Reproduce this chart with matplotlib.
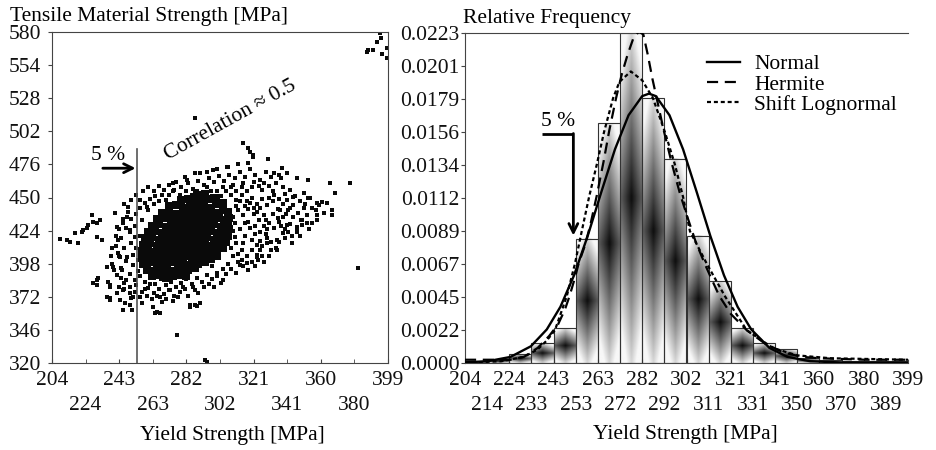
import numpy as np
import matplotlib
matplotlib.use('Agg')
import matplotlib.pyplot as plt
from matplotlib.patches import Rectangle
from matplotlib.lines import Line2D

plt.rcParams['font.family'] = ['Liberation Serif', 'DejaVu Serif']
plt.rcParams['font.size'] = 15.5

# ---------------- data ----------------
# left panel: scatter of yield strength vs tensile strength
# dense core of the cloud (drawn with bigger markers so it reads as solid black)
core_pts = [
    (262, 388), (266, 389), (270, 387), (274, 388), (278, 389), (282, 388),
    (259, 393), (263, 392), (267, 394), (271, 393), (275, 392), (279, 394), (283, 393), (287, 395),
    (257, 398), (261, 399), (265, 397), (269, 398), (273, 399), (277, 398), (281, 397), (285, 399), (289, 398), (293, 399),
    (256, 403), (260, 404), (264, 402), (268, 403), (272, 404), (276, 403), (280, 402), (284, 404), (288, 403), (292, 404), (296, 402), (300, 404),
    (256, 408), (260, 409), (264, 407), (268, 408), (272, 409), (276, 408), (280, 407), (284, 409), (288, 408), (292, 409), (296, 407), (300, 408), (303, 410),
    (257, 413), (261, 414), (265, 412), (269, 413), (273, 414), (277, 413), (281, 412), (285, 414), (289, 413), (293, 414), (297, 412), (301, 413), (305, 415),
    (258, 418), (262, 419), (266, 417), (270, 418), (274, 419), (278, 418), (282, 417), (286, 419), (290, 418), (294, 419), (298, 417), (302, 418), (306, 420),
    (260, 423), (264, 424), (268, 422), (272, 423), (276, 424), (280, 423), (284, 422), (288, 424), (292, 423), (296, 424), (300, 422), (304, 423), (307, 425),
    (262, 428), (266, 429), (270, 427), (274, 428), (278, 429), (282, 428), (286, 427), (290, 429), (294, 428), (298, 429), (302, 427), (306, 428),
    (265, 433), (269, 434), (273, 432), (277, 433), (281, 434), (285, 433), (289, 432), (293, 434), (297, 433), (301, 434), (304, 432), (307, 434),
    (268, 438), (272, 439), (276, 437), (280, 438), (284, 439), (288, 438), (292, 437), (296, 439), (300, 438), (303, 440), (306, 439),
    (272, 443), (276, 444), (280, 442), (284, 443), (288, 444), (292, 443), (296, 442), (299, 445), (303, 446),
    (279, 448), (283, 449), (287, 447), (291, 448), (295, 449), (299, 450), (288, 452), (293, 453),
]
# speckled halo around the core
halo_pts = [
    (272, 452), (275, 456), (279, 458), (283, 461), (286, 457), (289, 463), (292, 460), (295, 465), (298, 462), (301, 467),
    (304, 463), (307, 468), (310, 465), (313, 470), (316, 466), (319, 472), (322, 468), (325, 464), (328, 470), (331, 466),
    (334, 461), (337, 465), (281, 466), (287, 469), (294, 470), (300, 472), (306, 474), (312, 476), (318, 477), (276, 462),
    (270, 448), (268, 452), (296, 455), (303, 458), (309, 460), (315, 461), (320, 458), (326, 456), (332, 455), (338, 458),
    (308, 452), (311, 448), (314, 452), (317, 447), (320, 450), (323, 445), (326, 449), (329, 444), (332, 447), (335, 441),
    (338, 445), (341, 440), (344, 444), (312, 440), (315, 436), (318, 441), (321, 437), (324, 432), (327, 436), (330, 430),
    (333, 426), (336, 431), (339, 425), (342, 429), (310, 430), (313, 425), (316, 420), (319, 426), (322, 421), (325, 416),
    (328, 421), (331, 415), (334, 410), (311, 414), (314, 409), (317, 404), (320, 409), (323, 405), (309, 404), (312, 399),
    (315, 396), (306, 398), (303, 394), (300, 391), (297, 396), (320, 399), (326, 404), (344, 435), (347, 438), (349, 432),
    (346, 427), (352, 436), (350, 442),
    (255, 388), (258, 384), (261, 387), (264, 382), (267, 386), (270, 381), (273, 384), (276, 380), (279, 383), (282, 386),
    (285, 382), (288, 387), (291, 384), (294, 389), (297, 386), (260, 379), (263, 375), (266, 378), (269, 374), (272, 377),
    (275, 373), (278, 376), (252, 385), (249, 380), (252, 376), (255, 372), (258, 378), (246, 383), (249, 390), (281, 378),
    (287, 377), (292, 380), (300, 388), (303, 385), (262, 370), (268, 368), (256, 367), (250, 371),
    (254, 392), (251, 397), (254, 401), (251, 405), (253, 410), (250, 414), (252, 419), (249, 423), (252, 428), (250, 433),
    (253, 437), (255, 442), (258, 446), (261, 449), (264, 451), (247, 400), (246, 410), (244, 418), (247, 426), (245, 433),
    (248, 439), (243, 404), (241, 412), (244, 395), (242, 389), (239, 398), (256, 432), (255, 420), (255, 408), (260, 440),
    (263, 445), (266, 447),
    (246, 445), (250, 448), (253, 452), (257, 455), (260, 458), (263, 455), (266, 459), (269, 456), (272, 460), (274, 455),
    (278, 452), (282, 455), (285, 452), (288, 455), (291, 452), (294, 458), (297, 451), (300, 455), (302, 451), (305, 455),
    (308, 458), (311, 455), (314, 458), (317, 455), (321, 462), (324, 459), (327, 461), (330, 459), (333, 469), (336, 468),
    (243, 425), (245, 430), (241, 420), (239, 410), (238, 404), (240, 393), (244, 387), (247, 385), (246, 378), (243, 380),
    (249, 375), (253, 381), (256, 376), (259, 373), (261, 382), (265, 373), (270, 370), (274, 369), (277, 372), (283, 373),
    (286, 380), (289, 375), (295, 382), (298, 380), (302, 383), (305, 390), (308, 394), (311, 391), (314, 401), (318, 393),
    (322, 396), (327, 399), (330, 404), (331, 409), (336, 415), (339, 418), (341, 423), (343, 420), (348, 420), (353, 425),
    (355, 430), (357, 440), (359, 444), (362, 438), (309, 435), (311, 443), (313, 447), (316, 443), (319, 446), (321, 442),
    (323, 439), (325, 442), (327, 428), (329, 425), (332, 437), (335, 434), (337, 428), (340, 437), (318, 431), (320, 417),
    (323, 413), (326, 412), (329, 418), (315, 414), (312, 406), (308, 410), (310, 419), (309, 424), (316, 430), (322, 428),
    (325, 423), (328, 432), (330, 450), (333, 452), (336, 449), (339, 453), (342, 456), (345, 451), (348, 447), (351, 445),
    (354, 450),
]
# sparse tails and outliers
outlier_pts = [
    (208.6, 417.2), (212.5, 416.6), (214.4, 415.3), (217.3, 421.9), (219.3, 414.0), (221.2, 423.1), (222.2, 424.5),
    (224.1, 425.8), (225.1, 428.4), (227.0, 436.3), (228.0, 431.0), (229.9, 429.7), (229.9, 419.2), (231.9, 432.3),
    (232.8, 416.6), (228.0, 382.6), (229.9, 381.3), (229.9, 385.2), (230.9, 386.5), (235.7, 395.6), (236.7, 383.9),
    (237.7, 379.9), (237.7, 370.8), (235.7, 372.1), (237.7, 369.5), (237.7, 381.3), (239.6, 395.6), (240.6, 437.6),
    (241.6, 427.1), (242.5, 416.6), (242.5, 406.2), (243.5, 403.5), (244.5, 393.1), (245.4, 377.3), (246.4, 366.8),
    (241.6, 374.8), (243.5, 369.5), (245.4, 361.6), (249.3, 365.6), (247.4, 434.9), (248.3, 442.8), (249.3, 424.5),
    (247.4, 403.5), (250.3, 361.6), (251.2, 372.1), (255.1, 448.0), (259.0, 442.8), (262.8, 364.2), (263.8, 359.0),
    (266.7, 359.0), (266.7, 372.1), (272.5, 377.3), (280.2, 379.9), (284.1, 365.6), (287.0, 365.6), (289.9, 366.8),
    (262.8, 363.7), (264.8, 360.3), (274.4, 461.1), (282.2, 463.8), (289.9, 469.0), (297.6, 471.6), (305.4, 474.2),
    (318.9, 486.0), (320.8, 482.1), (329.5, 480.0), (337.3, 472.9), (340.2, 469.0), (346.0, 465.0), (352.8, 463.8),
    (365.3, 461.1), (377.0, 461.6), (368.2, 453.3), (363.4, 445.4), (366.3, 440.2), (366.3, 436.3), (357.6, 445.4),
    (354.7, 441.5), (351.8, 436.3), (348.4, 432.3), (350.2, 453.3), (344.1, 450.7), (340.2, 448.0), (342.1, 441.5),
    (336.3, 440.2), (338.3, 434.9), (340.2, 428.4), (346.0, 424.5), (343.1, 414.0), (338.3, 421.8), (334.4, 416.6),
    (334.4, 408.8), (328.6, 414.0), (324.7, 408.8), (323.7, 400.9), (317.0, 398.2), (313.1, 397.0), (299.6, 390.4),
    (293.8, 389.1), (381.7, 394.4), (352.8, 449.6), (357.6, 432.3), (349.2, 428.4), (360.5, 446.7), (357.6, 436.3),
    (351.8, 429.7), (346.0, 423.1), (322.8, 403.5),
    (287.0, 512.2), (315.0, 492.6), (317.9, 488.6), (320.8, 483.4), (276.4, 342.0), (292.8, 322.4), (293.8, 320.6),
    (284.1, 364.2), (288.0, 364.8),
    (386.6, 564.0), (390.5, 565.9), (392.5, 572.4), (394.4, 579.5), (395.0, 575.0), (398.3, 567.2), (395.4, 563.1),
    (398.7, 559.3), (387.6, 565.9),
]
quantile_5 = 253.3

left_yticks = [320, 346, 372, 398, 424, 450, 476, 502, 528, 554, 580]
left_xlabels = ['204', '224', '243', '263', '282', '302', '321', '341', '360', '380', '399']

# right panel: histogram of yield strength (relative frequency per bin)
bin_labels = ['204', '214', '224', '233', '243', '253', '263', '272', '282', '292', '302',
              '311', '321', '331', '341', '350', '360', '370', '380', '389', '399']
hist_freq = [0.0001, 0.0002, 0.00058, 0.00135, 0.00233, 0.0084, 0.0162, 0.0223, 0.0179, 0.0138,
             0.0086, 0.0055, 0.00233, 0.00135, 0.0009, 0.0003, 0.0002, 0.0001, 0.0001, 0.0001]
right_yticks = ['0.0000', '0.0022', '0.0045', '0.0067', '0.0089', '0.0112',
                '0.0134', '0.0156', '0.0179', '0.0201', '0.0223']

normal_x = [204, 214, 224, 233, 240, 246, 252, 258, 264, 270, 276, 282, 285, 288, 294, 300,
            306, 312, 318, 324, 330, 338, 346, 356, 370, 399]
normal_y = [0.00002, 0.0001, 0.00039, 0.00111, 0.00225, 0.00378, 0.00591, 0.00857, 0.01154,
            0.01443, 0.01674, 0.01803, 0.0182, 0.01803, 0.01674, 0.01443, 0.01154, 0.00857,
            0.00591, 0.00378, 0.00225, 0.0010, 0.00039, 0.0001, 0.00001, 0.0]
hermite_x = [204, 214, 224, 230, 236, 241, 245, 248, 250, 252.5, 254, 256.5, 259, 262, 265,
             267.5, 270.5, 273, 275.5, 278, 280.5, 282.5, 284.5, 286.5, 288.5, 291.5, 295,
             298.5, 302, 305.5, 309.5, 313, 316, 321, 328, 336, 344, 352, 360, 380, 399]
hermite_y = [0.0002, 0.0002, 0.0002, 0.0004, 0.0010, 0.0018, 0.0026, 0.0036, 0.0045, 0.0058,
             0.0067, 0.0078, 0.0092, 0.0113, 0.0136, 0.0157, 0.0179, 0.0195, 0.0208, 0.0219,
             0.0224, 0.0222, 0.0208, 0.0192, 0.0178, 0.0157, 0.0135, 0.0115, 0.0098, 0.0082,
             0.0067, 0.0055, 0.0045, 0.0033, 0.0022, 0.0013, 0.0007, 0.0004, 0.0003, 0.0002, 0.0002]
lognorm_x = [204, 220, 230, 236, 240, 243.6, 248.8, 252.4, 255.4, 258.6, 262, 265.2, 269.2,
             272, 277, 282, 286.7, 292, 296.4, 300, 303, 310.4, 318.4, 328, 339.5, 350, 365, 399]
lognorm_y = [0.0, 0.0001, 0.0004, 0.0009, 0.0015, 0.0022, 0.0045, 0.0067, 0.0089, 0.0112,
             0.0134, 0.0156, 0.0179, 0.0190, 0.0197, 0.0191, 0.0179, 0.0156, 0.0134, 0.0112,
             0.0089, 0.0067, 0.0045, 0.0022, 0.0010, 0.0005, 0.0003, 0.0002]

X_MIN, X_MAX = 204, 399
SPINE = '#444444'


'''Shaded bar: dark in the middle, fading to light grey at the edges'''
def gradient_bar(ax, x0, w, h):
    yy = np.linspace(-1, 1, 90)[:, None]
    xx = np.linspace(-1, 1, 30)[None, :]
    d = np.clip(0.85 * np.abs(yy) + 0.35 * np.abs(xx), 0, 1)
    shade = 0.05 + 0.92 * d
    ax.imshow(shade, cmap='gray', vmin=0, vmax=1, extent=(x0, x0 + w, 0, h),
              aspect='auto', origin='lower', interpolation='bilinear', zorder=1)
    ax.add_patch(Rectangle((x0, 0), w, h, fill=False, edgecolor='#333333', lw=0.8, zorder=2))


'''Put every other x tick label on a second row (minor ticks carry the lower row)'''
def two_row_xticks(ax, labels):
    pos = np.linspace(X_MIN, X_MAX, len(labels))
    ax.set_xticks(pos[0::2])
    ax.set_xticklabels(labels[0::2])
    ax.set_xticks(pos[1::2], minor=True)
    ax.set_xticklabels(labels[1::2], minor=True)
    ax.tick_params(axis='x', which='both', direction='in', length=3,
                   colors=SPINE, labelcolor='#111111')
    ax.tick_params(axis='x', which='major', pad=6)
    ax.tick_params(axis='x', which='minor', pad=24)


fig = plt.figure(figsize=(9.37, 4.5), dpi=100)

# ---------------- left: scatter ----------------
ax1 = fig.add_axes([52 / 937, 1 - 363 / 450, 336 / 937, 331 / 450])
core = np.array(core_pts)
halo = np.array(halo_pts)
outl = np.array(outlier_pts)
ax1.scatter(core[:, 0], core[:, 1], s=36, marker='s', color='#0a0a0a', linewidths=0, zorder=2)
ax1.scatter(halo[:, 0], halo[:, 1], s=8, marker='s', color='#0a0a0a', linewidths=0, zorder=2)
ax1.scatter(outl[:, 0], outl[:, 1], s=7, marker='s', color='#0a0a0a', linewidths=0, zorder=2)

ax1.plot([quantile_5, quantile_5], [320, 488], color='#555555', lw=1.2, zorder=3)
ax1.annotate('', xy=(quantile_5 - 0.8, 473), xytext=(233.5, 473),
             arrowprops=dict(arrowstyle='->', lw=2, color='k', mutation_scale=16,
                             shrinkA=0, shrinkB=0))
ax1.text(236.5, 483, '5 %', ha='center', va='center')
ax1.text(271.5, 479.5, 'Correlation \u2248 0.5', rotation=29, rotation_mode='anchor',
         ha='left', va='baseline')

ax1.set_xlim(X_MIN, X_MAX)
ax1.set_ylim(320, 580)
ax1.set_yticks(left_yticks)
two_row_xticks(ax1, left_xlabels)
ax1.tick_params(axis='y', direction='out', length=3, pad=5, colors=SPINE, labelcolor='#111111')
for s in ax1.spines.values():
    s.set_color(SPINE)
ax1.set_xlabel('Yield Strength [MPa]')
ax1.xaxis.set_label_coords(0.536, -0.19)

# ---------------- right: histogram + fitted densities ----------------
ax2 = fig.add_axes([465 / 937, 1 - 362.7 / 450, 443 / 937, 329.7 / 450])
edges = np.linspace(X_MIN, X_MAX, len(hist_freq) + 1)
for i, h in enumerate(hist_freq):
    gradient_bar(ax2, edges[i], edges[i + 1] - edges[i], h)

ax2.plot(normal_x, normal_y, color='k', lw=1.7, zorder=4)
ax2.plot(hermite_x, hermite_y, color='k', lw=1.6, dashes=(5, 3), zorder=4)
ax2.plot(lognorm_x, lognorm_y, color='k', lw=1.6, dashes=(1.8, 1.3), zorder=4)

ax2.plot([237.8, 251.7], [0.0155, 0.0155], color='k', lw=2, solid_capstyle='butt', zorder=5)
ax2.annotate('', xy=(251.7, 0.0086), xytext=(251.7, 0.0155),
             arrowprops=dict(arrowstyle='->', lw=2, color='k', mutation_scale=16,
                             shrinkA=0, shrinkB=0), zorder=5)
ax2.text(245, 0.0163, '5 %', ha='center', va='center')

handles = [Line2D([], [], color='k', lw=1.7),
           Line2D([], [], color='k', lw=1.6, dashes=(5, 3)),
           Line2D([], [], color='k', lw=1.6, dashes=(1.8, 1.3))]
ax2.legend(handles, ['Normal', 'Hermite', 'Shift Lognormal'], loc='upper left',
           bbox_to_anchor=(0.546, 0.935), frameon=False, handlelength=1.55,
           handletextpad=0.65, labelspacing=0.0, borderpad=0, borderaxespad=0)

ax2.set_xlim(X_MIN, X_MAX)
ax2.set_ylim(0, 0.0223)
ax2.set_yticks(np.linspace(0, 0.0223, len(right_yticks)))
ax2.set_yticklabels(right_yticks)
two_row_xticks(ax2, bin_labels)
ax2.tick_params(axis='y', direction='out', length=3, pad=1, colors=SPINE, labelcolor='#111111')
ax2.spines['right'].set_visible(False)
for s in ['left', 'top', 'bottom']:
    ax2.spines[s].set_color(SPINE)
ax2.set_xlabel('Yield Strength [MPa]')
ax2.xaxis.set_label_coords(0.497, -0.19)

fig.text(10 / 937, 1 - 17 / 450, 'Tensile Material Strength [MPa]', ha='left', va='center')
fig.text(463 / 937, 1 - 19 / 450, 'Relative Frequency', ha='left', va='center')

fig.savefig('out.png', dpi=100)
